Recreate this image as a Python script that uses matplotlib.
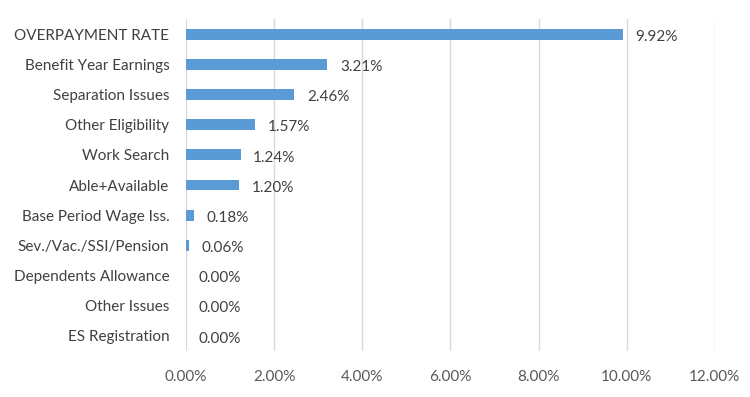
import matplotlib
matplotlib.use("Agg")
import matplotlib.pyplot as plt
from matplotlib.ticker import FuncFormatter

categories = ["OVERPAYMENT RATE", "Benefit Year Earnings", "Separation Issues",
              "Other Eligibility", "Work Search", "Able+Available",
              "Base Period Wage Iss.", "Sev./Vac./SSI/Pension",
              "Dependents Allowance", "Other Issues", "ES Registration"]
values = [9.92, 3.21, 2.46, 1.57, 1.24, 1.20, 0.18, 0.06, 0.00, 0.00, 0.00]
xticks = [0, 2, 4, 6, 8, 10, 12]

plt.rcParams['font.family'] = ['Lato', 'DejaVu Sans']

fig = plt.figure(figsize=(7.5, 3.97), dpi=100)
ax = fig.add_axes([0.248, 0.116, 0.705, 0.836])

ypos = list(range(len(categories)))[::-1]
ax.barh(ypos, values, height=0.36, color="#5B9BD5", zorder=3)
for y, v in zip(ypos, values):
    ax.annotate(f"{v:.2f}%", (v, y), xytext=(9, -2), textcoords="offset points",
                va="center", ha="left", fontsize=11, color="#404040")

ax.set_yticks(ypos)
ax.set_yticklabels(categories, fontsize=11, color="#404040")
ax.set_xlim(0, 12)
ax.set_ylim(-0.5, len(categories) - 0.5)
ax.set_xticks(xticks)
ax.xaxis.set_major_formatter(FuncFormatter(lambda x, p: f"{x:.2f}%"))
for lbl in ax.get_xticklabels():
    lbl.set_fontsize(11)
    lbl.set_color("#595959")
ax.tick_params(axis="both", length=0)
ax.tick_params(axis="x", pad=14)
ax.tick_params(axis="y", pad=12)
ax.grid(axis="x", color="#D9D9D9", linewidth=1, zorder=0)
for s in ax.spines.values():
    s.set_visible(False)

fig.savefig("out.png", dpi=100)
